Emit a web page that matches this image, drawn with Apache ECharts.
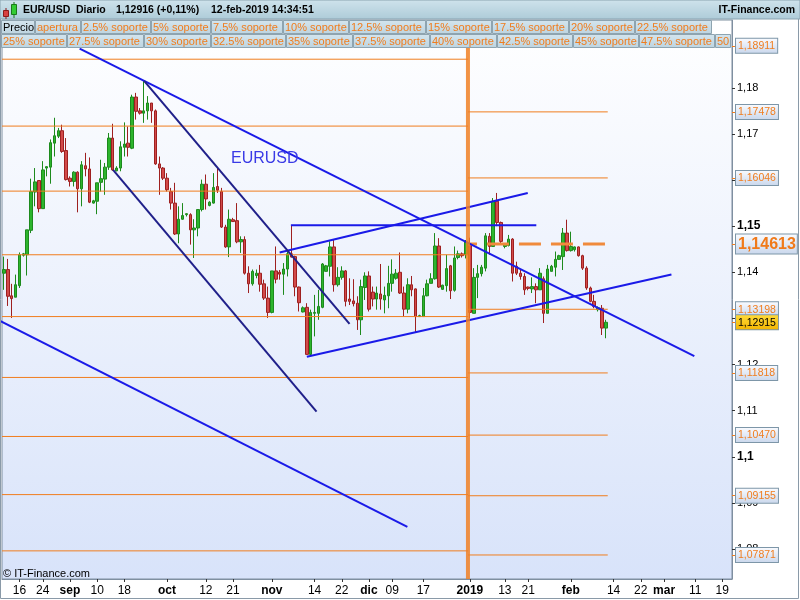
<!DOCTYPE html>
<html><head><meta charset="utf-8">
<script src="https://cdn.jsdelivr.net/npm/echarts@6/dist/echarts.min.js"></script>
<style>html,body{margin:0;padding:0;background:#fff}#c{width:800px;height:600px}</style>
</head><body><div id="c"></div>
<script>
// ---------------- DATA ----------------
const opens = [1.1398,1.1406,1.1349,1.1346,1.1371,1.1437,1.1438,1.1491,1.1574,1.1599,1.1538,1.1626,1.1628,1.1680,1.1695,1.1707,1.1664,1.1604,1.1597,1.1617,
1.1581,1.1631,1.1624,1.1550,1.1554,1.1595,1.1602,1.1628,1.1691,1.1620,1.1626,1.1671,1.1680,1.1669,1.1780,1.1750,1.1745,1.1750,1.1767,1.1750,
1.1635,1.1626,1.1604,1.1575,1.1550,1.1483,1.1515,1.1525,1.1525,1.1492,1.1496,1.1536,1.1591,1.1545,1.1550,1.1586,1.1575,1.1498,1.1455,1.1514,
1.1512,1.1466,1.1471,1.1398,1.1375,1.1393,1.1398,1.1375,1.1344,1.1313,1.1403,1.1400,1.1396,1.1407,1.1440,1.1434,1.1368,1.1314,1.1324,1.1222,
1.1311,1.1311,1.1324,1.1402,1.1413,1.1455,1.1373,1.1389,1.1403,1.1342,1.1338,1.1333,1.1297,1.1367,1.1392,1.1357,1.1342,1.1353,1.1340,1.1349,
1.1376,1.1387,1.1400,1.1355,1.1320,1.1373,1.1364,1.1304,1.1304,1.1349,1.1376,1.1386,1.1457,1.1363,1.1371,1.1414,1.1361,1.1432,1.1440,1.1438,
1.1461,1.1311,1.1389,1.1397,1.1409,1.1478,1.1456,1.1554,1.1508,1.1456,1.1458,1.1472,1.1413,1.1398,1.1391,1.1368,1.1364,1.1369,1.1362,1.1386,
1.1311,1.1402,1.1411,1.1428,1.1434,1.1485,1.1447,1.1449,1.1455,1.1436,1.1409,1.1366,1.1337,1.1319,1.1322,1.1279];
const highs = [1.1434,1.1429,1.1375,1.1395,1.1443,1.1442,1.1492,1.1603,1.1626,1.1599,1.1641,1.1630,1.1688,1.1735,1.1713,1.1720,1.1691,1.1608,1.1619,1.1619,
1.1641,1.1659,1.1649,1.1557,1.1594,1.1644,1.1637,1.1702,1.1722,1.1630,1.1684,1.1725,1.1716,1.1785,1.1789,1.1756,1.1816,1.1782,1.1767,1.1753,
1.1651,1.1628,1.1615,1.1583,1.1594,1.1543,1.1550,1.1528,1.1528,1.1515,1.1536,1.1601,1.1612,1.1554,1.1615,1.1626,1.1583,1.1503,1.1536,1.1518,
1.1550,1.1478,1.1478,1.1413,1.1406,1.1406,1.1416,1.1384,1.1369,1.1403,1.1456,1.1405,1.1420,1.1445,1.1501,1.1436,1.1369,1.1326,1.1333,1.1319,
1.1351,1.1362,1.1420,1.1416,1.1467,1.1472,1.1411,1.1413,1.1405,1.1387,1.1385,1.1348,1.1384,1.1400,1.1402,1.1369,1.1369,1.1418,1.1369,1.1414,
1.1428,1.1407,1.1443,1.1369,1.1387,1.1392,1.1365,1.1308,1.1366,1.1384,1.1398,1.1485,1.1474,1.1373,1.1438,1.1416,1.1456,1.1447,1.1443,1.1470,
1.1475,1.1409,1.1416,1.1416,1.1485,1.1485,1.1561,1.1572,1.1510,1.1463,1.1481,1.1474,1.1423,1.1405,1.1398,1.1369,1.1389,1.1376,1.1409,1.1391,
1.1416,1.1416,1.1445,1.1438,1.1496,1.1514,1.1488,1.1456,1.1456,1.1438,1.1413,1.1369,1.1351,1.1326,1.1329,1.1297];
const lows = [1.1362,1.1327,1.1301,1.1346,1.1366,1.1434,1.1393,1.1485,1.1543,1.1530,1.1538,1.1608,1.1592,1.1651,1.1691,1.1659,1.1599,1.1586,1.1586,1.1530,
1.1543,1.1608,1.1550,1.1549,1.1526,1.1575,1.1568,1.1622,1.1620,1.1619,1.1619,1.1651,1.1651,1.1667,1.1731,1.1742,1.1724,1.1731,1.1724,1.1633,
1.1568,1.1600,1.1575,1.1536,1.1481,1.1463,1.1514,1.1521,1.1460,1.1431,1.1478,1.1532,1.1536,1.1543,1.1549,1.1572,1.1496,1.1453,1.1433,1.1509,
1.1463,1.1442,1.1395,1.1355,1.1371,1.1387,1.1358,1.1340,1.1301,1.1311,1.1376,1.1384,1.1351,1.1391,1.1432,1.1348,1.1315,1.1313,1.1221,1.1219,
1.1261,1.1297,1.1322,1.1402,1.1391,1.1358,1.1369,1.1384,1.1326,1.1329,1.1326,1.1275,1.1264,1.1340,1.1315,1.1326,1.1319,1.1319,1.1311,1.1322,
1.1358,1.1384,1.1353,1.1304,1.1311,1.1348,1.1270,1.1303,1.1304,1.1348,1.1376,1.1384,1.1366,1.1362,1.1358,1.1342,1.1358,1.1428,1.1432,1.1430,
1.1300,1.1311,1.1344,1.1391,1.1402,1.1438,1.1456,1.1500,1.1463,1.1452,1.1456,1.1380,1.1394,1.1384,1.1351,1.1361,1.1355,1.1333,1.1362,1.1290,
1.1311,1.1402,1.1391,1.1427,1.1405,1.1445,1.1445,1.1445,1.1434,1.1405,1.1362,1.1335,1.1322,1.1315,1.1264,1.1257];
const closes = [1.1406,1.1348,1.1343,1.1373,1.1438,1.1440,1.1492,1.1575,1.1596,1.1538,1.1622,1.1629,1.1681,1.1696,1.1707,1.1662,1.1601,1.1597,1.1617,1.1581,
1.1633,1.1624,1.1552,1.1555,1.1594,1.1603,1.1628,1.1691,1.1622,1.1626,1.1672,1.1678,1.1671,1.1780,1.1749,1.1745,1.1750,1.1767,1.1750,1.1635,
1.1626,1.1604,1.1579,1.1550,1.1483,1.1515,1.1523,1.1527,1.1492,1.1496,1.1536,1.1591,1.1559,1.1552,1.1584,1.1578,1.1498,1.1455,1.1515,1.1510,
1.1466,1.1471,1.1398,1.1375,1.1402,1.1398,1.1374,1.1344,1.1313,1.1403,1.1385,1.1396,1.1407,1.1440,1.1433,1.1368,1.1334,1.1323,1.1222,1.1313,
1.1313,1.1326,1.1418,1.1414,1.1455,1.1373,1.1389,1.1403,1.1337,1.1337,1.1332,1.1297,1.1369,1.1392,1.1320,1.1342,1.1355,1.1342,1.1350,1.1376,
1.1396,1.1398,1.1355,1.1320,1.1373,1.1362,1.1304,1.1306,1.1349,1.1375,1.1386,1.1457,1.1368,1.1372,1.1408,1.1360,1.1431,1.1440,1.1436,1.1466,
1.1313,1.1389,1.1397,1.1411,1.1479,1.1456,1.1554,1.1508,1.1467,1.1461,1.1472,1.1398,1.1398,1.1391,1.1362,1.1365,1.1369,1.1362,1.1398,1.1311,
1.1407,1.1413,1.1428,1.1436,1.1485,1.1447,1.1456,1.1455,1.1436,1.1409,1.1366,1.1337,1.1326,1.1323,1.1279,1.12916];
const futureSlots = 32;                       // empty days to the right of the last candle
const firstIndex2019 = 120;                   // first candle of 2019
const tickIndex = [4,10,17,24,31,42,52,59,69,80,87,94,100,108,120,129,135,146,157,164,170,178,185];
const tickText  = ['16','24','sep','10','18','oct','12','21','nov','14','22','dic','09','17','2019','13','21','feb','14','22','mar','11','19'];
const boldTicks = ['sep','oct','nov','dic','2019','feb','mar'];
const priceTicks = [1.08,1.09,1.10,1.11,1.12,1.13,1.14,1.15,1.16,1.17,1.18];
const boldPrices = [1.10,1.15];
const levels2018 = [1.1862,1.1717,1.1576,1.1438,1.1304,1.1172,1.1044,1.0918,1.0796];
const levels2019 = [1.18911,1.17478,1.16046,1.13198,1.11818,1.10470,1.09155,1.07871];
const open2019 = 1.14613;
const lastPrice = 1.12915;
const priceMin = 1.0735, priceMax = 1.1947;
// trend lines: [[dayIndex, price],[dayIndex, price]]
const trendBlue = [
  [[19.5,1.1885],[177.8,1.1218]],
  [[-1.1,1.1295],[103.9,1.0848]],
  [[73.9,1.1502],[137.1,1.1502]],
  [[71.0,1.1443],[134.9,1.1572]],
  [[78.0,1.1217],[171.9,1.1395]]
];
const trendNavy = [
  [[36.1,1.1815],[89.0,1.1288]],
  [[28.1,1.1622],[80.5,1.1098]]
];
const headerTexts = ['EUR/USD','Diario','1,12916 (+0,11%)','12-feb-2019 14:34:51'];
const legendRow1 = ['Precio','apertura','2.5% soporte','5% soporte','7.5% soporte','10% soporte','12.5% soporte','15% soporte','17.5% soporte','20% soporte','22.5% soporte'];
const legendRow2 = ['25% soporte','27.5% soporte','30% soporte','32.5% soporte','35% soporte','37.5% soporte','40% soporte','42.5% soporte','45% soporte','47.5% soporte','50% soporte'];

// ---------------- LAYOUT ----------------
const FONT = "'Liberation Sans', Arial, sans-serif";
const row1X = [1,35,81,151,211,283,349,426,492,569,635,712];
const row2X = [1,67,144,211,286,353,430,497,573,639,715,731];
const headerX = [23,76,116,211];
const ORANGE = '#f07d1e';

const categories = Array.from({length: opens.length + futureSlots}, (_, i) => String(i));
const candleData = opens.map((o, i) => [o, closes[i], lows[i], highs[i]]);
const tickMap = {};
tickIndex.forEach((ix, k) => { tickMap[ix] = tickText[k]; });
const fmtPrice = (v, d) => v.toFixed(d).replace('.', ',');

const chart = echarts.init(document.getElementById('c'), null, {renderer: 'canvas'});

const series = [];
const lastEdge = opens.length - 0.5;
const yearEdge = firstIndex2019 - 0.5;
series.push({
  type:'candlestick', xAxisIndex:0, yAxisIndex:0, data:candleData, barWidth:3, z:2,
  itemStyle:{color:'#2db52d', color0:'#d24a4a', borderColor:'#1d8a1d', borderColor0:'#9e2020', borderWidth:1}
});
levels2018.forEach(v => series.push({
  type:'line', xAxisIndex:1, yAxisIndex:0, data:[[-0.5, v],[yearEdge, v]], symbol:'none', silent:true, z:3,
  lineStyle:{color:ORANGE, width:1}
}));
levels2019.forEach(v => series.push({
  type:'line', xAxisIndex:1, yAxisIndex:0, data:[[yearEdge, v],[lastEdge, v]], symbol:'none', silent:true, z:3,
  lineStyle:{color:ORANGE, width:1}
}));
series.push({
  type:'line', xAxisIndex:1, yAxisIndex:0, data:[[yearEdge, open2019],[lastEdge, open2019]], symbol:'none', silent:true, z:3,
  lineStyle:{color:'#f08a3c', width:3, type:[22,10], dashOffset:13}
});
trendBlue.forEach(seg => series.push({
  type:'line', xAxisIndex:1, yAxisIndex:0, data:seg, symbol:'none', silent:true, z:4, clip:true,
  lineStyle:{color:'#1a1ae8', width:2}
}));
trendNavy.forEach(seg => series.push({
  type:'line', xAxisIndex:1, yAxisIndex:0, data:seg, symbol:'none', silent:true, z:4, clip:true,
  lineStyle:{color:'#20208a', width:2}
}));
series.push({
  type:'line', xAxisIndex:1, yAxisIndex:0, data:[[yearEdge, priceMin],[yearEdge, priceMax]], symbol:'none', silent:true, z:5,
  lineStyle:{color:'rgba(240,128,36,0.85)', width:4}
});

const boxGrad = new echarts.graphic.LinearGradient(0,0,0,1,[{offset:0,color:'#fbfcff'},{offset:1,color:'#c9d7ec'}]);
const curGrad = new echarts.graphic.LinearGradient(0,0,0,1,[{offset:0,color:'#ffdc3c'},{offset:1,color:'#f3b400'}]);
const legGrad = () => new echarts.graphic.LinearGradient(0,0,0,1,[{offset:0,color:'#d4e5ee'},{offset:1,color:'#bdd4e0'}]);

const graphics = [];
// title bar
graphics.push({type:'rect', z:100, shape:{x:0,y:0,width:800,height:19},
  style:{fill:new echarts.graphic.LinearGradient(0,0,0,1,[{offset:0,color:'#cfe3ec'},{offset:1,color:'#adcbd8'}]), stroke:'#8aa3b0', lineWidth:1}});
// icon
graphics.push({type:'line', z:101, shape:{x1:6,y1:8,x2:6,y2:19}, style:{stroke:'#8b1a1a', lineWidth:1}});
graphics.push({type:'rect', z:101, shape:{x:3.5,y:10.5,width:5,height:6}, style:{fill:'#d84040', stroke:'#8b1a1a'}});
graphics.push({type:'line', z:101, shape:{x1:14,y1:2,x2:14,y2:18}, style:{stroke:'#1a7a1a', lineWidth:1}});
graphics.push({type:'rect', z:101, shape:{x:11.5,y:4.5,width:5,height:10}, style:{fill:'#33cc33', stroke:'#1a7a1a'}});
headerTexts.forEach((t, k) => graphics.push({type:'text', z:101, x:headerX[k], y:10,
  style:{text:t, font:'bold 10.5px ' + FONT, fill:'#000', textVerticalAlign:'middle'}}));
graphics.push({type:'text', z:101, x:795, y:10,
  style:{text:'IT-Finance.com', font:'bold 10.5px ' + FONT, fill:'#000', textAlign:'right', textVerticalAlign:'middle'}});
// legend rows
function legendRow(texts, xs, y0) {
  texts.forEach((t, k) => {
    const x0 = xs[k], x1 = xs[k+1];
    if (x1 === undefined) return;
    const w = x1 - x0 - 1;
    const last = (k === texts.length - 1);
    graphics.push({type:'rect', z:100, shape:{x:x0+0.5, y:y0+0.5, width:w, height:13}, style:{fill:legGrad(), stroke:'#8ea4b0', lineWidth:1}});
    const st = {text:t, font:'11px ' + FONT, fill: t === 'Precio' ? '#000' : ORANGE, textVerticalAlign:'middle'};
    if (last) { st.width = w + 1; st.overflow = 'truncate'; st.ellipsis = ''; }
    graphics.push({type:'text', z:101, x:x0+2, y:y0+7.5, style:st});
  });
}
legendRow(legendRow1, row1X, 20);
legendRow(legendRow2, row2X, 34);
// annotation + copyright
graphics.push({type:'text', z:50, x:231, y:151, style:{text:'EURUSD', font:'16px ' + FONT, fill:'#3a3ae6'}});
graphics.push({type:'text', z:50, x:3, y:574, style:{text:'\u00a9 IT-Finance.com', font:'11px ' + FONT, fill:'#000', textVerticalAlign:'middle'}});
// outer frame
graphics.push({type:'rect', z:99, shape:{x:0.5,y:0.5,width:798,height:598}, style:{fill:'none', stroke:'#8a9aa8', lineWidth:1}});

const option = {
  animation:false,
  textStyle:{fontFamily:FONT},
  grid:{left:2, right:68, top:20, bottom:21, show:true, containLabel:false, outerBoundsMode:'none',
    backgroundColor:new echarts.graphic.LinearGradient(0,0,0,1,[{offset:0,color:'#ffffff'},{offset:1,color:'#d8e3fa'}]),
    borderColor:'#7f8fa0', borderWidth:1},
  xAxis:[
    {type:'category', data:categories, boundaryGap:true,
     axisLine:{show:true, onZero:false, lineStyle:{color:'#7f8fa0'}},
     axisTick:{show:true, alignWithLabel:true, length:3, interval:(i) => tickMap[i] !== undefined, lineStyle:{color:'#333'}},
     axisLabel:{show:true, interval:(i) => tickMap[i] !== undefined, margin:6, fontSize:12, color:'#000', fontFamily:FONT,
       formatter:(v) => { const t = tickMap[+v]; if (t === undefined) return ''; return boldTicks.includes(t) ? '{b|' + t + '}' : t; },
       rich:{b:{fontWeight:'bold', fontSize:12, color:'#000', fontFamily:FONT}}},
     splitLine:{show:false}},
    {type:'value', min:-0.5, max:categories.length - 0.5, show:false, axisLine:{onZero:false}}
  ],
  yAxis:[
    {type:'value', position:'right', min:priceMin, max:priceMax, scale:true,
     axisLine:{show:true, onZero:false, lineStyle:{color:'#7f8fa0'}},
     axisTick:{show:true, length:3, customValues:priceTicks, lineStyle:{color:'#333'}},
     axisLabel:{show:true, customValues:priceTicks, margin:5, fontSize:11, color:'#000', fontFamily:FONT,
       formatter:(v) => { const s = String(+(+v).toFixed(2)).replace('.', ','); return boldPrices.some(b => Math.abs(b - v) < 1e-6) ? '{b|' + s + '}' : s; },
       rich:{b:{fontWeight:'bold', fontSize:12, color:'#000', fontFamily:FONT}}},
     splitLine:{show:false}},
    {type:'value', position:'right', min:priceMin, max:priceMax, scale:true,
     axisLine:{show:false, onZero:false},
     axisTick:{show:true, length:4, customValues:levels2019.concat([open2019, lastPrice]), lineStyle:{color:ORANGE}},
     axisLabel:{show:true, customValues:levels2019.concat([open2019, lastPrice]), margin:4,
       formatter:(v) => {
         const s = fmtPrice(+v, 5);
         if (Math.abs(v - open2019) < 1e-7) return '{open|' + s + '}';
         if (Math.abs(v - lastPrice) < 1e-7) return '{cur|' + s + '}';
         return '{lvl|' + s + '}';
       },
       rich:{
         lvl:{color:ORANGE, fontSize:10.5, fontFamily:FONT, backgroundColor:boxGrad, borderColor:'#7d96a8', borderWidth:1, padding:[2,2,1,2], lineHeight:11},
         open:{color:'#f07a1a', fontSize:16, fontWeight:'bold', fontFamily:FONT, backgroundColor:boxGrad, borderColor:'#7d96a8', borderWidth:1, padding:[2,1,1,2], lineHeight:16},
         cur:{color:'#000', fontSize:10.5, fontFamily:FONT, backgroundColor:curGrad, borderColor:'#7d96a8', borderWidth:1, padding:[2,2,1,2], lineHeight:11}
       }},
     splitLine:{show:false}}
  ],
  series: series,
  graphic: graphics
};
chart.setOption(option);
</script></body></html>
